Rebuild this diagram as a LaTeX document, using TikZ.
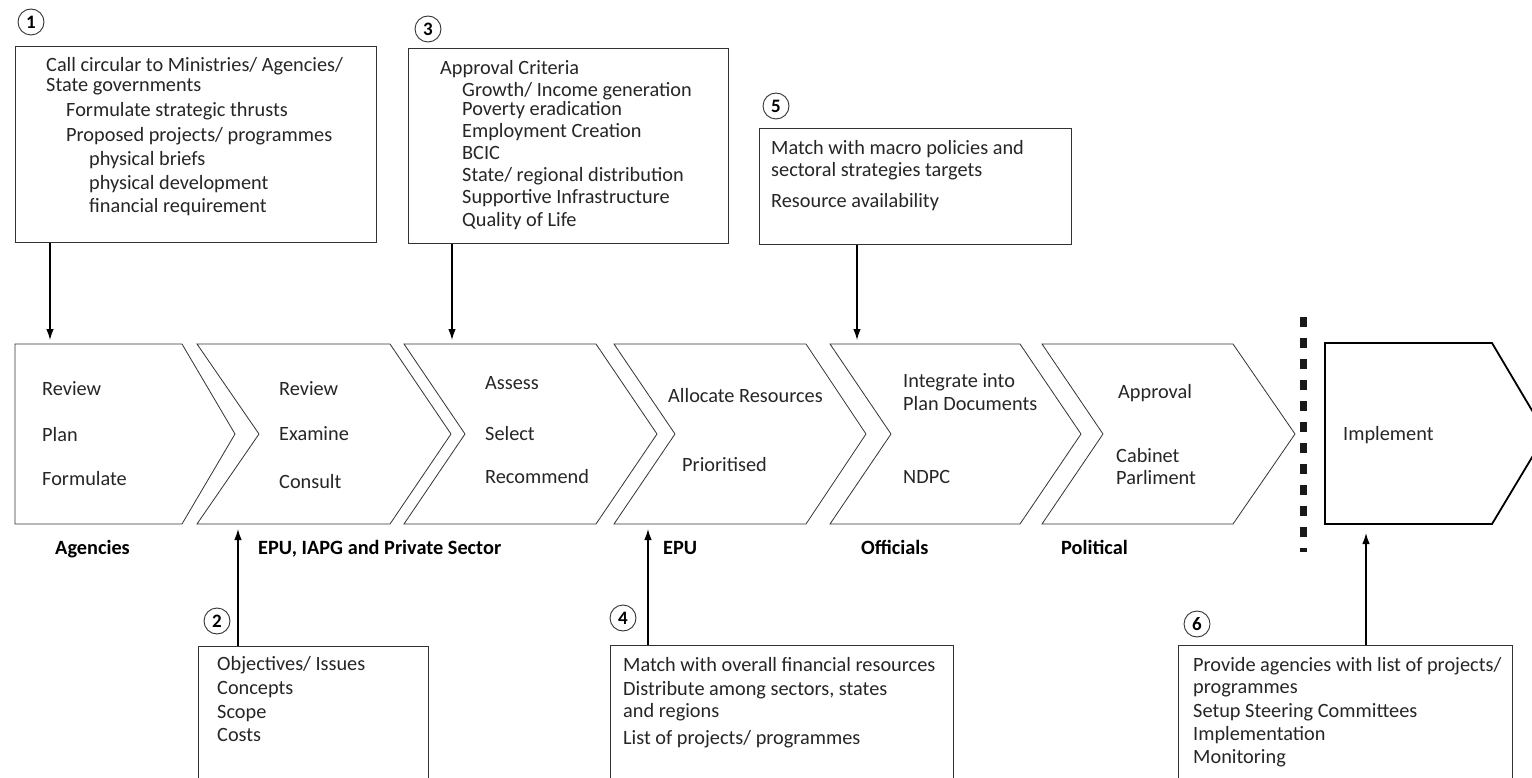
\documentclass[tikz,border=0pt]{standalone}
\usepackage{fontspec}
\setmainfont{Carlito}
\usetikzlibrary{arrows.meta}
\tikzset{
  txt/.style={anchor=base west, inner sep=0pt, font=\fontsize{20.3}{24}\selectfont, text=black!85},
  lbl/.style={anchor=base west, inner sep=0pt, font=\fontsize{20.3}{24}\selectfont\bfseries},
  box/.style={draw=black!80, line width=0.9pt, anchor=north west, inner sep=0pt},
  num/.style={draw=black!80, circle, line width=0.9pt, minimum size=26pt, inner sep=0pt, font=\fontsize{19}{22}\selectfont\bfseries},
  chev/.style={draw=black!80, line width=0.8pt},
  arr/.style={line width=1.3pt, -{Latex[length=11pt,width=7.5pt]}},
}
\newcommand\tline[4]{\node[txt] (#1) at (#2,#3) {#4};}
\newcommand\chevron[4]{% L, R, notch depth, tip depth
  \draw[chev] (#1,344) -- (#2,344) -- ({#2+#4},434) -- (#2,524) -- (#1,524) -- ({#1+#3},434) -- cycle;}
\begin{document}
\begin{tikzpicture}[x=1pt,y=-1pt]
\useasboundingbox (0,0) rectangle (1532,778);
\clip (0,0) rectangle (1532,778);
\fill[white] (0,0) rectangle (1532,778);

% ---- top boxes ----
\node[num] (n1) at (31,22) {1};
\node[box, minimum width=361pt, minimum height=196pt] (b1) at (15,46) {};
\tline{t1a}{46}{72}{Call circular to Ministries/ Agencies/}
\tline{t1b}{46}{92}{State governments}
\tline{t1c}{66}{117}{Formulate strategic thrusts}
\tline{t1d}{66}{142}{Proposed projects/ programmes}
\tline{t1e}{89}{166}{physical briefs}
\tline{t1f}{89}{190}{physical development}
\tline{t1g}{89}{213}{financial requirement}

\node[num] (n3) at (428,29) {3};
\node[box, minimum width=320pt, minimum height=195pt] (b3) at (408,48) {};
\tline{t3a}{440}{75}{Approval Criteria}
\tline{t3b}{462}{97}{Growth/ Income generation}
\tline{t3c}{462}{116}{Poverty eradication}
\tline{t3d}{462}{138}{Employment Creation}
\tline{t3e}{462}{160}{BCIC}
\tline{t3f}{462}{182}{State/ regional distribution}
\tline{t3g}{462}{204}{Supportive Infrastructure}
\tline{t3h}{462}{227}{Quality of Life}

\node[num] (n5) at (776,106) {5};
\node[box, minimum width=312pt, minimum height=116pt] (b5) at (759,128) {};
\tline{t5a}{771}{155}{Match with macro policies and}
\tline{t5b}{771}{177}{sectoral strategies targets}
\tline{t5c}{771}{208}{Resource availability}

% ---- chevrons ----
\draw[chev] (15,344) -- (182,344) -- (235,434) -- (182,524) -- (15,524) -- cycle;
\chevron{197}{390}{62}{61}
\chevron{404}{596}{61}{61}
\chevron{614}{806}{61}{60}
\chevron{830}{1020}{61}{61}
\chevron{1042}{1233}{61}{62}
\draw[line width=1.8pt, black] (1325,343) -- (1492,343) -- (1546,434) -- (1492,524) -- (1325,524) -- cycle;

\coordinate (k1) at (50,340);
\coordinate (k3) at (452,340);
\coordinate (k5) at (857,340);
\coordinate (k2) at (238,529);
\coordinate (k4) at (648,529);
\coordinate (k6) at (1366,533);

\tline{c1a}{42}{395}{Review}
\tline{c1b}{42}{441}{Plan}
\tline{c1c}{42}{485}{Formulate}
\tline{c2a}{279}{395}{Review}
\tline{c2b}{279}{440}{Examine}
\tline{c2c}{279}{488}{Consult}
\tline{c3a}{485}{389}{Assess}
\tline{c3b}{485}{440}{Select}
\tline{c3c}{485}{483}{Recommend}
\tline{c4a}{668}{402}{Allocate Resources}
\tline{c4b}{682}{471}{Prioritised}
\tline{c5a}{903}{387}{Integrate into}
\tline{c5b}{903}{410}{Plan Documents}
\tline{c5c}{903}{483}{NDPC}
\tline{c6a}{1118}{398}{Approval}
\tline{c6b}{1116}{462}{Cabinet}
\tline{c6c}{1116}{484}{Parliment}
\tline{c7a}{1343}{440}{Implement}

% ---- bold labels ----
\node[lbl] (l1) at (55,554) {Agencies};
\node[lbl] (l2) at (258,554) {EPU, IAPG and Private Sector};
\node[lbl] (l3) at (663,554) {EPU};
\node[lbl] (l4) at (861,554) {Officials};
\node[lbl] (l5) at (1061,554) {Political};

% ---- divider ----
\draw[line width=7pt, black!90, dash pattern=on 10pt off 11pt] (1303,317) -- (1303,552);

% ---- bottom boxes ----
\node[num] (n2) at (217,621) {2};
\node[box, minimum width=230pt, minimum height=160pt] (b2) at (198,646) {};
\tline{t2a}{217}{670}{Objectives/ Issues}
\tline{t2b}{217}{694}{Concepts}
\tline{t2c}{217}{718}{Scope}
\tline{t2d}{217}{741}{Costs}

\node[num] (n4) at (623,618) {4};
\node[box, minimum width=343pt, minimum height=160pt] (b4) at (610,645) {};
\tline{t4a}{623}{671}{Match with overall financial resources}
\tline{t4b}{623}{695}{Distribute among sectors, states}
\tline{t4c}{623}{717}{and regions}
\tline{t4d}{623}{744}{List of projects/ programmes}

\node[num] (n6) at (1197,624) {6};
\node[box, minimum width=334pt, minimum height=160pt] (b6) at (1178,645) {};
\tline{t6a}{1193}{671}{Provide agencies with list of projects/}
\tline{t6b}{1193}{693}{programmes}
\tline{t6c}{1193}{717}{Setup Steering Committees}
\tline{t6d}{1193}{740}{Implementation}
\tline{t6e}{1193}{763}{Monitoring}

% ---- arrows ----
\draw[arr] (b1.south -| k1) -- (k1);
\draw[arr] (b3.south -| k3) -- (k3);
\draw[arr] (b5.south -| k5) -- (k5);
\draw[arr] (b2.north -| k2) -- (k2);
\draw[arr] (b4.north -| k4) -- (k4);
\draw[arr] (b6.north -| k6) -- (k6);
\end{tikzpicture}
\end{document}
